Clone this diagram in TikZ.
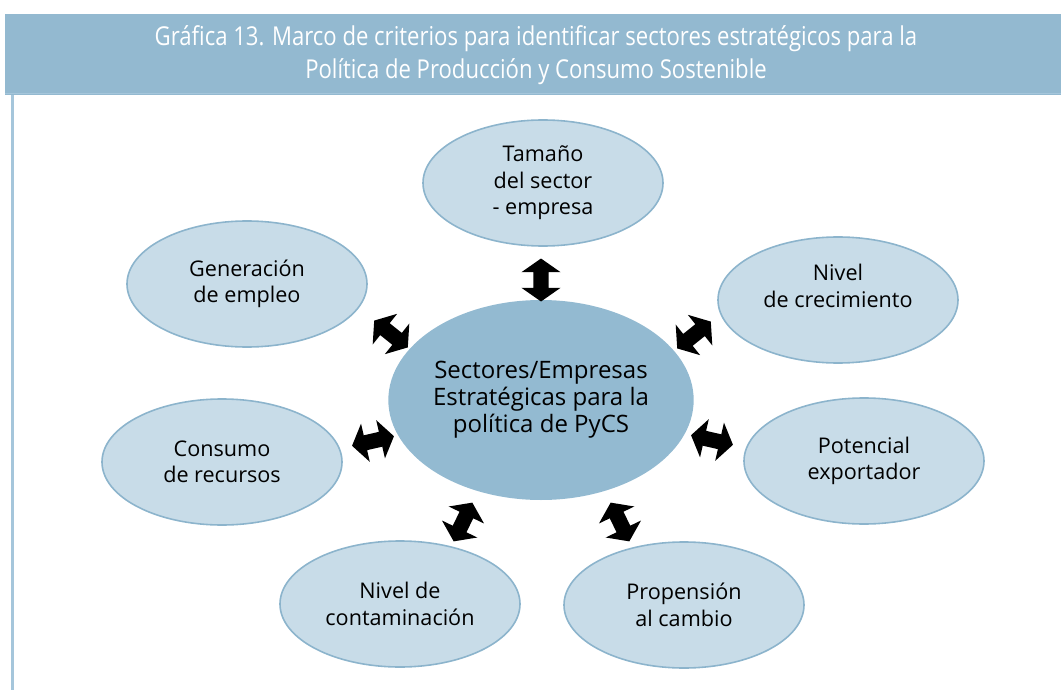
\documentclass[tikz,border=0pt]{standalone}
\usepackage{fontspec}
\setmainfont{Open Sans}
\newfontfamily\titlefont[FakeStretch=0.85]{Open Sans}
\usepackage{tikz}
\usetikzlibrary{shapes.geometric}
\usetikzlibrary{shapes.arrows}
\definecolor{headblue}{HTML}{93B9D0}
\definecolor{hubblue}{HTML}{93BAD1}
\definecolor{petalfill}{HTML}{C8DCE8}
\definecolor{petalline}{HTML}{8CB4CC}
\definecolor{rimblue}{HTML}{A5C6DB}
\newcommand{\biarrow}[4]{\node[biarrow,rotate=#4] (#1) at (#2,#3) {};}

\begin{document}
\begin{tikzpicture}[x=0.5pt,y=-0.5pt,
    hub/.style={ellipse,fill=hubblue,minimum width=143pt,minimum height=100pt,inner sep=0pt,align=center,font=\fontsize{12}{13.5}\selectfont},
    petal/.style={ellipse,draw=petalline,line width=0.8pt,fill=petalfill,minimum width=120pt,minimum height=63pt,inner sep=0pt,align=center,font=\fontsize{10.8}{13.2}\selectfont},
    petaltext/.style={align=center,inner sep=0pt,font=\fontsize{10.8}{13.2}\selectfont},
    biarrow/.style={double arrow,fill=black,minimum height=21.5pt,minimum width=19.5pt,inner xsep=0pt,inner ysep=3.6pt,double arrow head extend=6pt,double arrow tip angle=110}]
        \useasboundingbox (0,0) rectangle (1061,690);
        %header
        \fill[headblue] (5,14) rectangle (1061,95);
        \draw[rimblue,line width=0.8pt] (5,93.5) -- (1061,93.5);
        \draw[rimblue,line width=1.5pt] (12,95) -- (12,690);
        \node[text=white,align=center,font=\titlefont\fontsize{13}{16.5}\selectfont] (title) at (536,55)
            {Gráfica 13. Marco de criterios para identificar sectores estratégicos para la\\Política de Producción y Consumo Sostenible};

        \node[hub] (hub) at (541,400) {Sectores/Empresas\\Estratégicas para la\\política de PyCS};

        \node[petal] (tamano) at (543,183) {Tamaño\\del sector\\- empresa};
        \node[petal] (empleo) at (247,284) {Generación\\de empleo};
        \node[petal] (crecim) at (838,300) {};
        \node[petaltext] (crecimtxt) at ([yshift=7pt]crecim.center) {Nivel\\de crecimiento};
        \node[petal] (recursos) at (222,462) {Consumo\\de recursos};
        \node[petal] (export) at (864,461) {Potencial\\exportador};
        \node[petal] (contam) at (400,604) {Nivel de\\contaminación};
        \node[petal] (cambio) at (684,605) {Propensión\\al cambio};

        %arrows
        \biarrow{aTam}{541}{280}{90}
        \biarrow{aEmp}{391}{334}{141.4}
        \biarrow{aCre}{694}{335}{38.6}
        \biarrow{aRec}{373}{441}{192.9}
        \biarrow{aExp}{712}{440}{-12.9}
        \biarrow{aCon}{463}{522}{244.3}
        \biarrow{aCam}{620}{522}{-64.3}
    \end{tikzpicture}
\end{document}
